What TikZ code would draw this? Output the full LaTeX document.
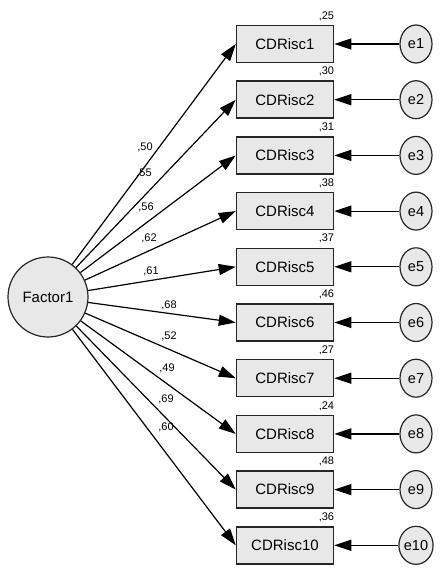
\documentclass[tikz,border=0pt]{standalone}
\usepackage{fontspec}
\setmainfont{Liberation Sans}
\usetikzlibrary{arrows.meta,shapes.geometric}
\begin{document}
\begin{tikzpicture}[x=1pt,y=-1pt,
  obs/.style={draw=black!85,line width=1.5pt,fill=black!9,minimum width=97pt,minimum height=37pt,inner sep=0pt,font=\fontsize{15}{18}\selectfont},
  err/.style={ellipse,draw=black!85,line width=1.2pt,fill=black!9,minimum width=32pt,minimum height=38pt,inner sep=0pt,font=\fontsize{14.5}{17}\selectfont},
  lat/.style={circle,draw=black!85,line width=1.2pt,fill=black!9,minimum size=80pt,inner sep=0pt,font=\fontsize{15}{18}\selectfont},
  lab/.style={inner sep=0pt,font=\fontsize{11}{13}\selectfont},
  rsq/.style={inner sep=0pt,anchor=south east,font=\fontsize{11}{13}\selectfont},
  arr/.style={-{Triangle[length=17pt,width=11pt]},line width=1.2pt,black}]
\useasboundingbox (0,0) rectangle (441,586);
\node[lat] (F) at (48,297) {Factor1};
\foreach \i/\r/\l/\lx/\ly in {1/25/50/145/147, 2/30/55/144/173, 3/31/56/146/207, 4/38/62/149/238, 5/37/61/151/271, 6/46/68/169/305, 7/27/52/169/336, 8/24/49/167/368, 9/48/69/166/399, 10/36/60/166/427}{
  \pgfmathsetmacro{\yy}{44+55.7*(\i-1)}
  \node[obs] (c\i) at (285,\yy) {CDRisc\i};
  \node[err] (e\i) at (416,\yy) {e\i};
  \node[rsq] (r\i) at ([yshift=4pt]c\i.north east) {,\r};
  \node[lab] (l\i) at (\lx,\ly) {,\l};
  \draw[arr] (F) -- (c\i.west);
  \draw[arr] (e\i) -- (c\i.east);
}
\end{tikzpicture}
\end{document}
